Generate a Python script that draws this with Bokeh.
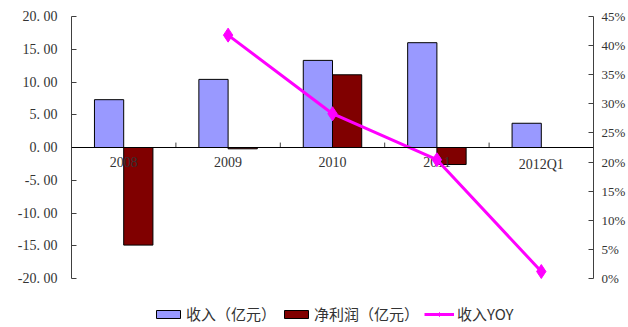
from bokeh.plotting import figure
from bokeh.models import (Range1d, LinearAxis, FixedTicker, Span, Legend, LegendItem,
                          ColumnDataSource)
from bokeh.core.properties import value
from bokeh.embed import file_html
from bokeh.resources import INLINE

categories = ["2008", "2009", "2010", "2011", "2012Q1"]
revenue = [7.3, 10.4, 13.3, 16.0, 3.7]
profit = [-14.9, -0.2, 11.1, -2.6, 0.0]
yoy_cats = ["2009", "2010", "2011", "2012Q1"]
yoy = [0.418, 0.283, 0.204, 0.012]

left_ticks = [-20, -15, -10, -5, 0, 5, 10, 15, 20]
left_labels = ["-20. 00", "-15. 00", "-10. 00", "-5. 00", "0. 00", "5. 00", "10. 00", "15. 00", "20. 00"]
right_ticks = [0, 0.05, 0.10, 0.15, 0.20, 0.25, 0.30, 0.35, 0.40, 0.45]
right_labels = ["0%", "5%", "10%", "15%", "20%", "25%", "30%", "35%", "40%", "45%"]

# axis spans (-20..20 and 0..0.45) occupy 262 px; the frame extends 49 px lower for the legend
AX_PX = 262.0
EXTRA_PX = 49.0
left_lo = -20 - 40 * EXTRA_PX / AX_PX
right_lo = 0 - 0.45 * EXTRA_PX / AX_PX

xpos = [i + 0.5 for i in range(len(categories))]
src = ColumnDataSource(dict(
    cat=categories,
    xr=[x - 0.14 for x in xpos],
    xp=[x + 0.14 for x in xpos],
    xc=xpos,
    rev=revenue,
    prof=profit,
    zero=[0] * len(categories),
))
bounds = list(range(1, len(categories)))
tsrc = ColumnDataSource(dict(x=bounds, y0=[0] * len(bounds), y1=[0.75] * len(bounds)))
ysrc = ColumnDataSource(dict(x=[categories.index(c) + 0.5 for c in yoy_cats], y=yoy))

p = figure(width=628, height=327, output_backend="svg", toolbar_location=None,
           x_range=Range1d(0, len(categories)), y_range=Range1d(left_lo, 20),
           min_border_left=71, min_border_right=32, min_border_top=16, min_border_bottom=0)
p.outline_line_color = None
p.xgrid.visible = False
p.ygrid.visible = False
p.background_fill_color = "white"
p.border_fill_color = "white"
p.xaxis.visible = False

p.extra_y_ranges = {"pct": Range1d(right_lo, 0.45)}

serif = "Liberation Serif"

# left axis
ya = p.yaxis[0]
ya.bounds = (-20, 20)
ya.ticker = FixedTicker(ticks=left_ticks)
ya.major_label_overrides = {t: l for t, l in zip(left_ticks, left_labels)}
ya.major_tick_in = 5
ya.major_tick_out = 0
ya.minor_tick_line_color = None
ya.axis_line_color = "#404040"
ya.major_tick_line_color = "#404040"
ya.major_label_text_font = serif
ya.major_label_text_font_size = "14px"
ya.major_label_text_color = "#333333"
ya.major_label_standoff = 14

# right axis
ra = LinearAxis(y_range_name="pct")
ra.bounds = (0, 0.45)
ra.ticker = FixedTicker(ticks=right_ticks)
ra.major_label_overrides = {t: l for t, l in zip(right_ticks, right_labels)}
ra.major_tick_in = 5
ra.major_tick_out = 0
ra.minor_tick_line_color = None
ra.axis_line_color = "#404040"
ra.major_tick_line_color = "#404040"
ra.major_label_text_font = serif
ra.major_label_text_font_size = "13px"
ra.major_label_text_color = "#333333"
ra.major_label_standoff = 8
p.add_layout(ra, "right")

r1 = p.vbar(x="xr", top="rev", bottom=0, width=0.28, source=src,
            fill_color="#9999FF", line_color="black", line_width=1)
r2 = p.vbar(x="xp", top="prof", bottom=0, width=0.28, source=src,
            fill_color="#800000", line_color="black", line_width=1)

p.add_layout(Span(location=0, dimension="width", line_color="black", line_width=1))
p.segment(x0="x", y0="y0", x1="x", y1="y1", source=tsrc, line_color="#404040", line_width=1)

p.text(x="xc", y="zero", text="cat", source=src, y_offset=9,
       text_align="center", text_baseline="top",
       text_font=value(serif), text_font_size="14px", text_color="#333333")

r3 = p.line(x="x", y="y", source=ysrc, y_range_name="pct", line_color="#FF00FF", line_width=3)
r4 = p.scatter(x="x", y="y", source=ysrc, y_range_name="pct", marker="diamond", size=14,
               fill_color="#FF00FF", line_color="#FF00FF")

legend = Legend(items=[
    LegendItem(label="收入（亿元）", renderers=[r1]),
    LegendItem(label="净利润（亿元）", renderers=[r2]),
    LegendItem(label="收入YOY", renderers=[r3, r4]),
], orientation="horizontal", location=(82, 3))
legend.glyph_width = 30
legend.glyph_height = 10
legend.label_standoff = 3
legend.spacing = 5
legend.padding = 0
legend.margin = 0
legend.border_line_color = None
legend.background_fill_alpha = 0
legend.label_text_font = "Noto Sans CJK SC"
legend.label_text_font_size = "15px"
legend.label_text_color = "#333333"
p.add_layout(legend)

open("out.html", "w").write(file_html(p, INLINE))
